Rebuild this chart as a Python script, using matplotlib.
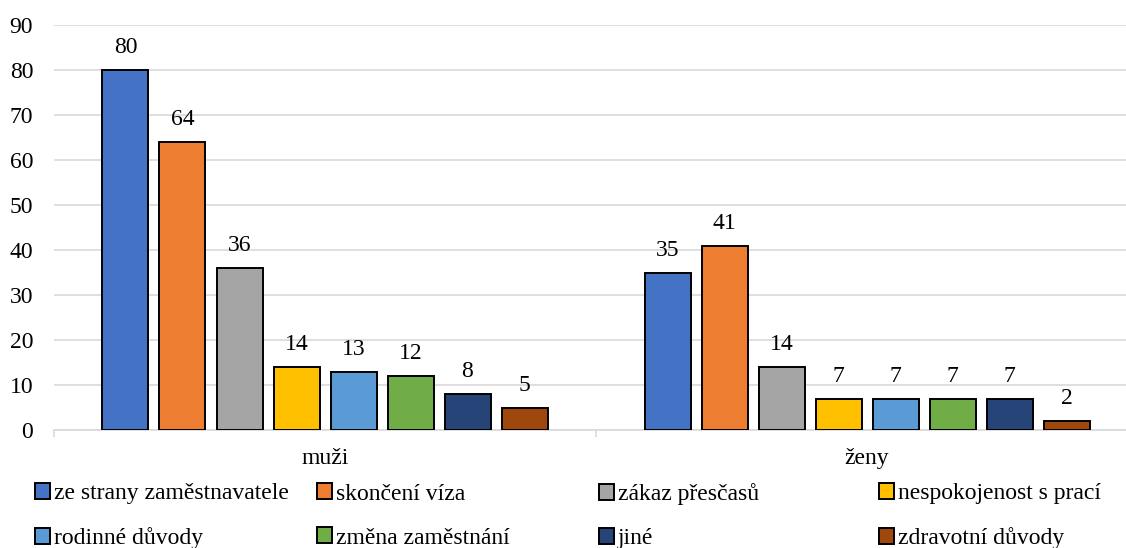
import numpy as np
import matplotlib
matplotlib.use('Agg')
import matplotlib.pyplot as plt

plt.rcParams['font.family'] = ['Liberation Serif', 'DejaVu Serif']

groups = ['muži', 'ženy']
reasons = ['ze strany zaměstnavatele', 'skončení víza', 'zákaz přesčasů',
           'nespokojenost s prací', 'rodinné důvody', 'změna zaměstnání',
           'jiné', 'zdravotní důvody']
muzi = [80, 64, 36, 14, 13, 12, 8, 5]
zeny = [35, 41, 14, 7, 7, 7, 7, 2]
colors = ['#4472C4', '#ED7D31', '#A5A5A5', '#FFC000',
          '#5B9BD5', '#70AD47', '#264478', '#9E480E']

fs = 17

fig = plt.figure(figsize=(11.26, 5.48), dpi=100)
ax = fig.add_axes([54/1126, 1 - 430/548, 1084/1126, 405/548])

x = np.arange(len(groups))
pitch = 57/542          # distance between bars (data units)
width = 46/542          # bar width
values = np.array([muzi, zeny])  # shape (groups, reasons)

bars = []
for i, (r, c) in enumerate(zip(reasons, colors)):
    off = (i - (len(reasons) - 1)/2) * pitch
    b = ax.bar(x + off, values[:, i], width, color=c, edgecolor='black',
               linewidth=1.4, label=r, zorder=3)
    bars.append(b)
    for rect, v in zip(b, values[:, i]):
        ax.annotate(str(v), (rect.get_x() + rect.get_width()/2, v),
                    xytext=(0, 12), textcoords='offset points',
                    ha='center', va='baseline', fontsize=fs)

ax.set_ylim(0, 90)
ax.set_yticks(range(0, 91, 10))
ax.set_xlim(-0.5, 1.5)
ax.yaxis.grid(True, color='#d9d9d9', linewidth=1.2, zorder=0)
ax.set_axisbelow(True)
for s in ['top', 'right', 'left']:
    ax.spines[s].set_visible(False)
ax.spines['bottom'].set_color('#d9d9d9')
ax.spines['bottom'].set_linewidth(1.2)
ax.tick_params(axis='y', length=0, pad=15, labelsize=fs)
ax.set_xticks(x)
ax.set_xticklabels(groups)
ax.tick_params(axis='x', length=0, pad=13, labelsize=fs)
ax.set_xticks([-0.5, 0.5, 1.5], minor=True)
ax.tick_params(axis='x', which='minor', length=5, color='#d9d9d9', width=1.2)

# legend: 4 evenly spaced columns, 2 rows
col_x = [35, 317, 599, 879]
for k in range(4):
    hs = [bars[k][0], bars[k + 4][0]]
    ls = [reasons[k], reasons[k + 4]]
    fig.legend(hs, ls, loc='center left',
               bbox_to_anchor=(col_x[k]/1126, 1 - 516/548),
               frameon=False, fontsize=fs, borderpad=0, borderaxespad=0,
               handlelength=0.65, handleheight=0.65, handletextpad=0.15,
               labelspacing=0.97)

fig.savefig('out.png', dpi=100)
